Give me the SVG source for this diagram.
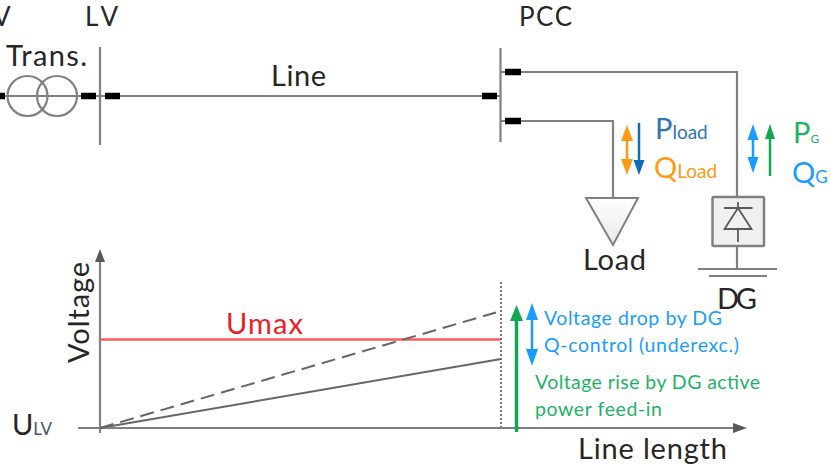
<svg xmlns="http://www.w3.org/2000/svg" width="831" height="471" viewBox="0 0 831 471">
<style>
text{font-family:Lato,"Noto Sans","Liberation Sans",sans-serif;fill:#262626}
.g{fill:none;stroke:#808080;stroke-width:2.2}
.b{fill:none;stroke:#000;stroke-width:6.5}
.m{font-size:29px}
.t{font-size:26px}
.s{font-size:19px}
.bl{fill:#1a9cff}.gr{fill:#13a654}.o{fill:#ff9a14}.db{fill:#0e6db8}
</style>
<defs>
<linearGradient id="lg" x1="0" y1="0" x2="0" y2="1"><stop offset="0" stop-color="#fff"/><stop offset="1" stop-color="#e8e8e8"/></linearGradient>
</defs>
<rect width="831" height="471" fill="#fff"/>
<g id="connectors">
<path class="g" d="M0 96H500M100 47V145M500.500 48V142M500 72H737V197M500 121H613V198"/>
<path class="b" d="M-2 96H5M81 96H96M105 96H120M482 96H497M505 72H521M505 121H521"/>
<path class="g" d="M737 246V269M698 269H777M709 276H767"/>
<path d="M627 135V165" stroke="#ff9a14" stroke-width="2.5"/><path class="o" d="M627 125L633 141H621ZM627 175L621 159H633Z"/>
<path d="M639 123V165" stroke="#0e6db8" stroke-width="2.5"/><path class="db" d="M639 175L633.500 160H644.500Z"/>
<path d="M753 134V163" stroke="#1a9cff" stroke-width="2.5"/><path class="bl" d="M753 124L758.500 140H747.500ZM753 173L747.500 157H758.500Z"/>
<path d="M770 134V176" stroke="#13a654" stroke-width="2.5"/><path class="gr" d="M770 124L775 139H765Z"/>
<path d="M100 256V433" stroke="#808080" stroke-width="2.200"/><path fill="#595959" d="M100 249L105 262H95Z"/>
<path d="M78 428H738" stroke="#808080" stroke-width="2.200"/><path fill="#595959" d="M747 428L733 433V423Z"/>
<path d="M101 339.500H501" stroke="#ff5a5f" stroke-width="2.400"/>
<path d="M100 428L501 359" stroke="#666" stroke-width="2" fill="none"/>
<path d="M100 428L496 312.500" stroke="#666" stroke-width="2" fill="none" stroke-dasharray="14 7"/>
<path d="M501 282V430" stroke="#777" stroke-width="2" stroke-dasharray="2 2"/>
<path d="M516.500 315V432" stroke="#13a654" stroke-width="3.500"/><path class="gr" d="M516.500 305L523 321H510Z"/>
<path d="M532 315V353" stroke="#1a9cff" stroke-width="2.500"/><path class="bl" d="M532 303L538 320H526ZM532 366L526 349H538Z"/>
</g>
<g id="transformer"><circle class="g" cx="27.500" cy="96" r="20"/><circle class="g" cx="57" cy="96" r="20"/>
<text class="m" x="6" y="66" textLength="81">Trans.</text></g>
<g id="mv"><text class="t" x="-7" y="26">V</text></g>
<g id="lv"><text class="t" x="85" y="26" textLength="33">LV</text></g>
<g id="line"><text class="m" x="271" y="86" textLength="55">Line</text></g>
<g id="pcc"><text class="t" x="519" y="26" textLength="53">PCC</text></g>
<g id="load"><path d="M586 198H638L613 245Z" fill="url(#lg)" stroke="#808080" stroke-width="2"/>
<text class="m" x="583" y="270" textLength="63">Load</text></g>
<g id="dg"><rect x="712.500" y="197" width="51.500" height="49" rx="1" fill="#f0f0f0" stroke="#808080" stroke-width="2.500"/>
<path d="M724 208H752.500M738 202V208M738 208L724.500 229H751.500ZM738 229V242" fill="none" stroke="#595959" stroke-width="1.800"/>
<text class="m" x="717" y="309" textLength="40">DG</text></g>
<g id="labels">
<text class="m" x="655" y="139" style="fill:#2e75b6">P<tspan class="s">load</tspan></text>
<text class="m" x="654" y="178" style="fill:#ff9a14">Q<tspan class="s">Load</tspan></text>
<text class="m" x="793" y="143" style="fill:#1fb265">P<tspan font-size="12">G</tspan></text>
<text class="m" x="792" y="183" style="fill:#1a9cff">Q<tspan font-size="17">G</tspan></text>
<text class="m" x="226" y="334" textLength="77" style="fill:#ee1c25">Umax</text>
<text class="m" transform="translate(89 363) rotate(-90)" textLength="101">Voltage</text>
<text class="m" x="12" y="435">U<tspan font-size="17" style="fill:#44546a">LV</tspan></text>
<text x="544" y="325" font-size="19.500" textLength="178" style="fill:#1a9cff">Voltage drop by DG</text>
<text x="544" y="352" font-size="19.500" textLength="195" style="fill:#1a9cff">Q-control (underexc.)</text>
<text x="535" y="389" font-size="19.500" textLength="225" style="fill:#1fb265">Voltage rise by DG active</text>
<text x="535" y="416" font-size="19.500" textLength="127" style="fill:#1fb265">power feed-in</text>
<text class="m" x="578" y="459" textLength="149">Line length</text>
</g>
</svg>
